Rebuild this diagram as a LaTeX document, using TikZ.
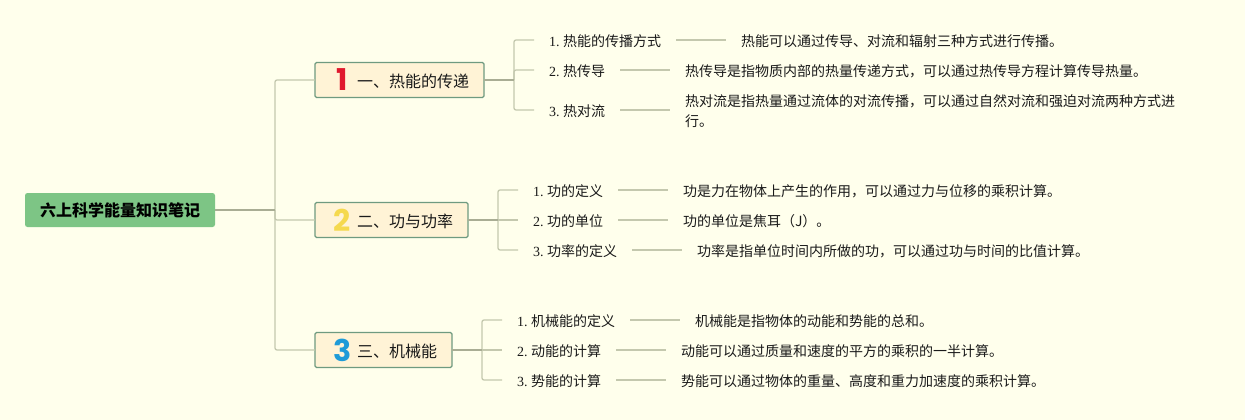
\documentclass[tikz,border=0pt]{standalone}
\usepackage{fontspec}
\setmainfont{Liberation Serif}
\newfontfamily\cjk{Noto Sans CJK SC}
\newfontfamily\numfont{Poppins}
\definecolor{bgc}{HTML}{FFFFEC}
\definecolor{rootc}{HTML}{7DC585}
\definecolor{branchc}{HTML}{FFF3D6}
\definecolor{borderc}{HTML}{6F9A80}
\definecolor{thinc}{HTML}{C4C8AE}
\definecolor{thickc}{HTML}{A9AD94}
\definecolor{inkc}{HTML}{1A1A1A}
\definecolor{numa}{HTML}{E0182D}
\definecolor{numb}{HTML}{F5D94E}
\definecolor{numc}{HTML}{1E9BD8}
\newcommand{\lbltext}[2]{\rule{0pt}{12.6pt}\smash{\makebox[14pt][l]{#1}{\cjk #2}}}
\tikzset{
  rootbox/.style={fill=rootc,rounded corners=2.5pt,minimum width=190pt,minimum height=34pt,inner sep=0pt,outer sep=0pt,font=\cjk\fontsize{16}{20}\selectfont\bfseries,text=black},
  branchbox/.style={fill=branchc,draw=borderc,line width=1.1pt,rounded corners=1.5pt,minimum height=35pt,inner sep=0pt,outer sep=0pt},
  branchtext/.style={inner sep=0pt,font=\cjk\fontsize{16}{20}\selectfont,text=inkc,anchor=west},
  numicon/.style={inner sep=0pt,font=\numfont\bfseries\fontsize{30}{32}\selectfont},
  labelnode/.style={anchor=west,inner xsep=15pt,inner ysep=0pt,outer sep=0pt,font=\fontsize{14}{20}\selectfont,text=inkc},
  detailnode/.style={anchor=west,inner xsep=15pt,inner ysep=0pt,outer sep=0pt,align=left,font=\cjk\fontsize{14}{20}\selectfont,text=inkc},
  thinline/.style={draw=thinc,line width=1.3pt,rounded corners=2pt},
  thickline/.style={draw=thickc,line width=1.6pt},
}
\begin{document}
\begin{tikzpicture}[x=1pt,y=-1pt]
\useasboundingbox[fill=bgc] (0,0) rectangle (1245,420);
% nodes
\node[rootbox,anchor=west] (root) at (25,210) {六上科学能量知识笔记};
\coordinate (trunk) at (275,210);
\node[branchbox,anchor=west,minimum width=169pt] (b1) at (315,80) {};
\node[branchbox,anchor=west,minimum width=153pt] (b2) at (315,220) {};
\node[branchbox,anchor=west,minimum width=137pt] (b3) at (315,350) {};
\node[numicon,text=numa] at (342.5,80) {1};
\node[numicon,text=numb] at (342.5,220) {2};
\node[numicon,text=numc] at (342.5,350) {3};
\node[branchtext] at (357,81) {一、热能的传递};
\node[branchtext] at (357,221) {二、功与功率};
\node[branchtext] at (357,351) {三、机械能};
\coordinate (h1) at (514,80);
\coordinate (h2) at (498,220);
\coordinate (h3) at (482,350);
% labels
\node[labelnode] (l11) at (534,40) {\lbltext{1.}{热能的传播方式}};
\node[labelnode] (l12) at (534,70) {\lbltext{2.}{热传导}};
\node[labelnode] (l13) at (534,110) {\lbltext{3.}{热对流}};
\node[labelnode] (l21) at (518,190) {\lbltext{1.}{功的定义}};
\node[labelnode] (l22) at (518,220) {\lbltext{2.}{功的单位}};
\node[labelnode] (l23) at (518,250) {\lbltext{3.}{功率的定义}};
\node[labelnode] (l31) at (502,320) {\lbltext{1.}{机械能的定义}};
\node[labelnode] (l32) at (502,350) {\lbltext{2.}{动能的计算}};
\node[labelnode] (l33) at (502,380) {\lbltext{3.}{势能的计算}};
% details
\node[detailnode] (d11) at (726,41) {热能可以通过传导、对流和辐射三种方式进行传播。};
\node[detailnode] (d12) at (670,71) {热传导是指物质内部的热量传递方式，可以通过热传导方程计算传导热量。};
\node[detailnode] (d13) at (670,111) {热对流是指热量通过流体的对流传播，可以通过自然对流和强迫对流两种方式进\\行。};
\node[detailnode] (d21) at (668,191) {功是力在物体上产生的作用，可以通过力与位移的乘积计算。};
\node[detailnode] (d22) at (668,221) {功的单位是焦耳（J）。};
\node[detailnode] (d23) at (682,251) {功率是指单位时间内所做的功，可以通过功与时间的比值计算。};
\node[detailnode] (d31) at (680,321) {机械能是指物体的动能和势能的总和。};
\node[detailnode] (d32) at (666,351) {动能可以通过质量和速度的平方的乘积的一半计算。};
\node[detailnode] (d33) at (666,381) {势能可以通过物体的重量、高度和重力加速度的乘积计算。};
% connectors
\draw[thinline] (b1.west) -| (trunk) |- (b3.west);
\draw[thinline] (trunk) |- (b2.west);
\draw[thickline] (root.east) -- (trunk);
\draw[thinline] (l11.west) -| (h1) |- (l13.west);
\draw[thinline] (h1) |- (l12.west);
\draw[thickline] (b1.east) -- (h1);
\draw[thinline] (l21.west) -| (h2) |- (l23.west);
\draw[thinline] (h2) -- (l22.west);
\draw[thickline] (b2.east) -- (h2);
\draw[thinline] (l31.west) -| (h3) |- (l33.west);
\draw[thinline] (h3) -- (l32.west);
\draw[thickline] (b3.east) -- (h3);
\foreach \a/\b in {l11/d11,l12/d12,l13/d13,l21/d21,l22/d22,l23/d23,l31/d31,l32/d32,l33/d33}{
  \draw[thinline] (\a.east) -- (\a.east -| \b.west);
}
\end{tikzpicture}
\end{document}
